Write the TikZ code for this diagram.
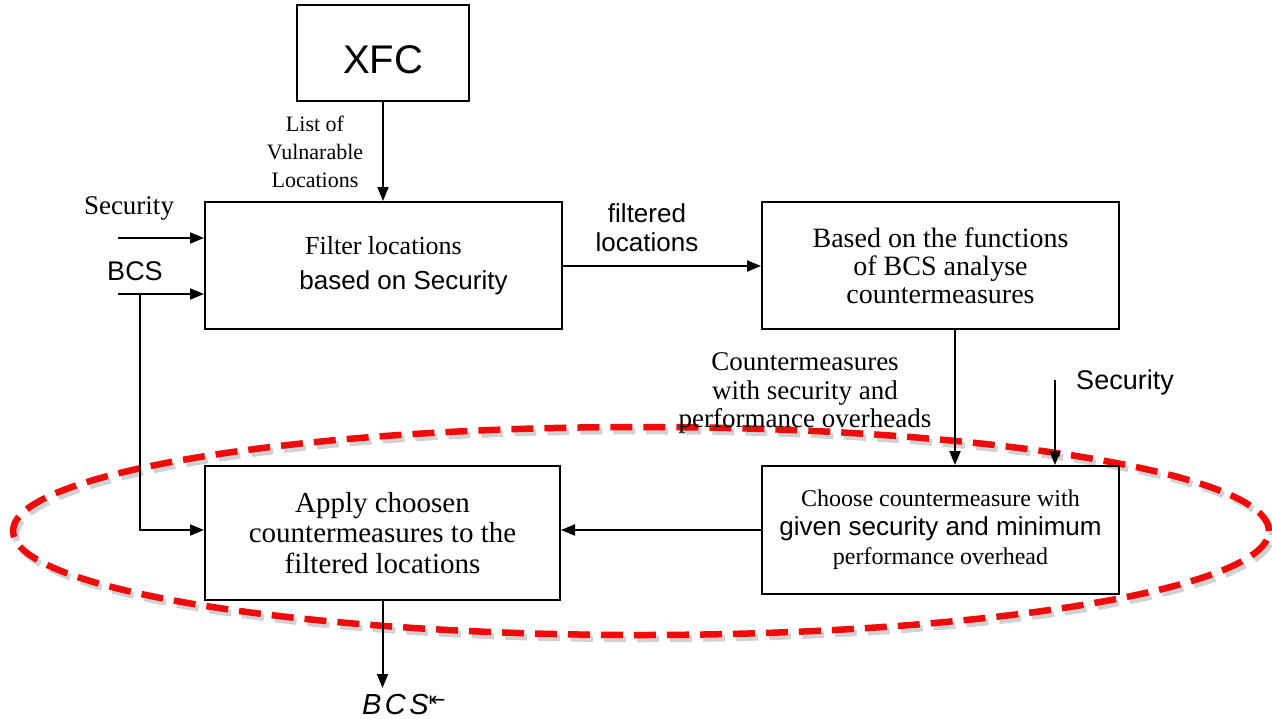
\documentclass[tikz,border=0pt]{standalone}
\usepackage{fontspec}
\setmainfont{Liberation Serif}
\setsansfont{Liberation Sans}
\newfontfamily\symbolfont{DejaVu Sans}
\usetikzlibrary{arrows.meta}
\definecolor{hlred}{RGB}{240,10,10}
\begin{document}
\begin{tikzpicture}[x=1pt,y=-1pt,
  box/.style={draw,line width=2pt,inner sep=0pt,align=center},
  arr/.style={-{Triangle[length=14pt,width=11pt]},line width=2pt},
  lbl/.style={inner sep=0pt,align=center},
  sansA/.style={font=\sffamily\fontsize{26}{29}\selectfont},
  hl/.style={line width=6.5pt,dash pattern=on 22pt off 11pt}]
\useasboundingbox (0,0) rectangle (1272,718);

% highlight ring around the final stage (shadow first)
\draw[hl,black!60,opacity=0.3] (644,535) ellipse [x radius=628pt, y radius=104pt];
\draw[hl,hlred] (641,531) ellipse [x radius=628pt, y radius=104pt];

% process boxes
\node[box,minimum width=172pt,minimum height=96pt,font=\sffamily\fontsize{40}{42}\selectfont] (xfc) at (383,53)
  {\raisebox{-7pt}[\height][\depth]{XFC}};
\node[box,minimum width=357pt,minimum height=127pt,font=\fontsize{26}{35}\selectfont] (filter) at (383.5,265.5)
  {\rmfamily Filter locations\\
   \hspace*{40pt}\sffamily based on Security};
\node[box,minimum width=357pt,minimum height=127pt,font=\rmfamily\fontsize{28}{28}\selectfont] (analyse) at (940.5,265.5)
  {Based on the functions\\of BCS analyse\\countermeasures};
\node[box,minimum width=357pt,minimum height=128pt,font=\fontsize{24}{29}\selectfont] (choose) at (940.5,530)
  {\rmfamily Choose countermeasure with\\
   {\sffamily\fontsize{26}{29}\selectfont given security and minimum}\\
   \rmfamily performance overhead};
\node[box,minimum width=355pt,minimum height=134pt,font=\rmfamily\fontsize{29}{30.5}\selectfont] (apply) at (382.5,533)
  {Apply choosen\\countermeasures to the\\filtered locations};

% labels
\node[lbl,font=\rmfamily\fontsize{22}{28}\selectfont] (listlbl) at (315,152) {List of\\Vulnarable\\Locations};
\node[lbl,font=\rmfamily\fontsize{27}{28}\selectfont] (seclbl) at (129,208) {Security};
\node[lbl,font=\sffamily\fontsize{27}{29}\selectfont] (bcslbl) at (135,271) {BCS};
\node[lbl,sansA] (fltlbl) at (647,228) {filtered\\locations};
\node[lbl,font=\rmfamily\fontsize{27}{28.5}\selectfont] (cmlbl) at (805,393) {Countermeasures\\with security and\\performance overheads};
\node[lbl,font=\sffamily\fontsize{27}{29}\selectfont] (secrlbl) at (1125,383) {Security};
\node[lbl,font=\sffamily\itshape\fontsize{29}{30}\selectfont,anchor=base west] (bcsout) at (362,714)
  {\addfontfeature{LetterSpace=12}BCS\raisebox{8pt}{\symbolfont\upshape\fontsize{20}{20}\selectfont ⇤}};

% free ends of the input lines
\coordinate (secin) at (118,238);
\coordinate (bcsin) at (118,294);
\coordinate (bcsjoin) at (140,294);
\coordinate (bcsbend) at (140,530);
\coordinate (secrin) at (1055,380);

% connectors
\draw[arr] (xfc.south) -- (xfc.south |- filter.north);
\draw[arr] (secin) -- (secin -| filter.west);
\draw[arr] (bcsin) -- (bcsin -| filter.west);
\draw[arr] (bcsjoin) -- (bcsbend) -- (bcsbend -| apply.west);
\draw[arr] (filter.east |- 0,266) -- (analyse.west |- 0,266);
\draw[arr] (955,0 |- analyse.south) -- (955,0 |- choose.north);
\draw[arr] (secrin) -- (secrin |- choose.north);
\draw[arr] (choose.west |- 0,530) -- (apply.east |- 0,530);
\draw[arr] (apply.south) -- (apply.south |- 0,688);
\end{tikzpicture}
\end{document}
